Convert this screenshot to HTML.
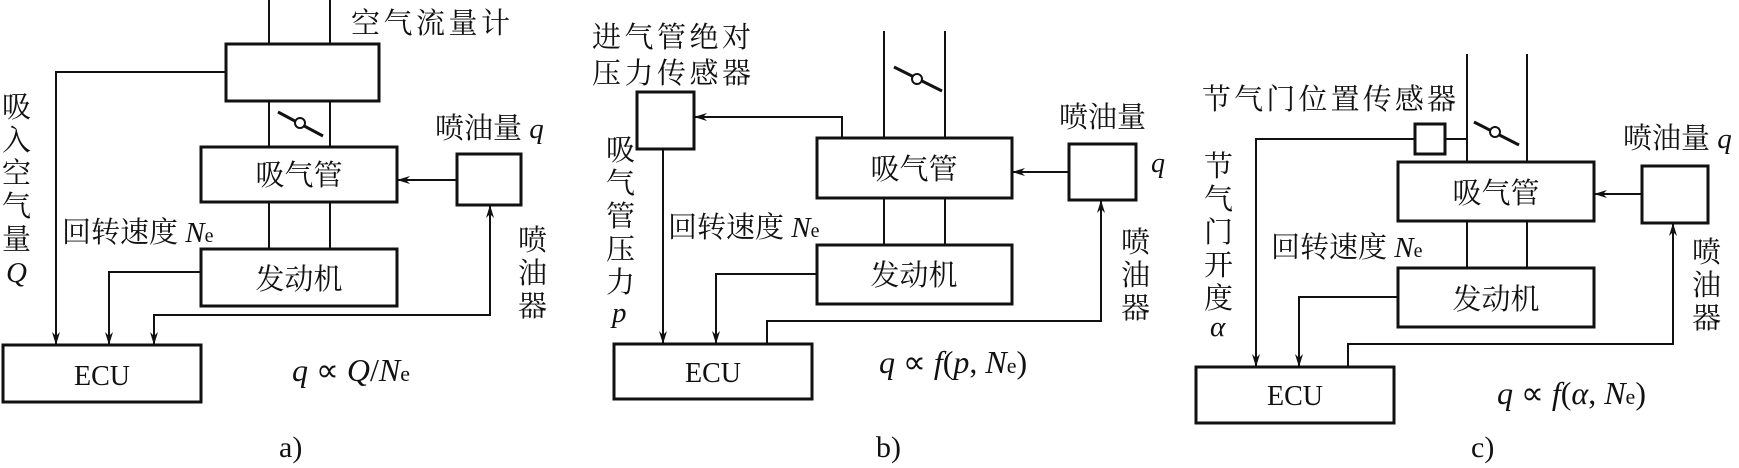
<!DOCTYPE html>
<html><head><meta charset="utf-8"><style>
html,body{margin:0;padding:0;background:#fff;}
svg{display:block;}
.c{font-family:"Liberation Serif","Noto Serif CJK SC",serif;font-size:29px;fill:#111;}
.l{font-family:"Liberation Serif",serif;fill:#111;}
.i{font-style:italic;}
</style></head><body>
<svg width="1739" height="468" viewBox="0 0 1739 468" xmlns="http://www.w3.org/2000/svg">
<defs>
<marker id="a" markerWidth="14" markerHeight="10" refX="13" refY="5" orient="auto" markerUnits="userSpaceOnUse">
<path d="M0,1 L13,5 L0,9 L4,5 Z" fill="#111"/>
</marker>
</defs>
<g stroke="#111" fill="none">
<!-- Panel a -->
<line x1="269" y1="0" x2="269" y2="44" stroke-width="2"/>
<line x1="330" y1="0" x2="330" y2="44" stroke-width="2"/>
<rect x="226" y="44" width="153" height="57" stroke-width="3"/>
<line x1="269" y1="101" x2="269" y2="147" stroke-width="2"/>
<line x1="330" y1="101" x2="330" y2="147" stroke-width="2"/>
<line x1="278" y1="112" x2="323" y2="136" stroke-width="3"/>
<circle cx="300" cy="123" r="5" fill="#fff" stroke-width="2"/>
<rect x="201" y="147" width="196" height="55" stroke-width="3"/>
<line x1="269" y1="202" x2="269" y2="249" stroke-width="2"/>
<line x1="330" y1="202" x2="330" y2="249" stroke-width="2"/>
<rect x="201" y="249" width="196" height="57" stroke-width="3"/>
<rect x="3" y="345" width="198" height="57" stroke-width="3"/>
<rect x="457" y="154" width="64" height="51" stroke-width="3"/>
<polyline points="226,72 56,72 56,345" stroke-width="2" marker-end="url(#a)"/>
<polyline points="201,272 109,272 109,345" stroke-width="2" marker-end="url(#a)"/>
<line x1="457" y1="180" x2="397" y2="180" stroke-width="2" marker-end="url(#a)"/>
<polyline points="154,345 154,315 490,315 490,205" stroke-width="2" marker-end="url(#a)"/>
<path d="M150,332 L154,345 L158,332 L154,336 Z" fill="#111" stroke="none"/>

<!-- Panel b -->
<line x1="884" y1="31" x2="884" y2="138" stroke-width="2"/>
<line x1="945" y1="31" x2="945" y2="138" stroke-width="2"/>
<line x1="894" y1="67" x2="942" y2="91" stroke-width="3"/>
<circle cx="917" cy="79" r="5" fill="#fff" stroke-width="2"/>
<rect x="637" y="92" width="57" height="57" stroke-width="3"/>
<rect x="817" y="138" width="195" height="60" stroke-width="3"/>
<line x1="884" y1="198" x2="884" y2="245" stroke-width="2"/>
<line x1="945" y1="198" x2="945" y2="245" stroke-width="2"/>
<rect x="817" y="245" width="195" height="59" stroke-width="3"/>
<rect x="614" y="344" width="198" height="55" stroke-width="3"/>
<rect x="1069" y="144" width="67" height="56" stroke-width="3"/>
<polyline points="842,138 842,117 694,117" stroke-width="2" marker-end="url(#a)"/>
<line x1="663" y1="149" x2="663" y2="344" stroke-width="2" marker-end="url(#a)"/>
<polyline points="817,274 716,274 716,344" stroke-width="2" marker-end="url(#a)"/>
<line x1="1069" y1="172" x2="1012" y2="172" stroke-width="2" marker-end="url(#a)"/>
<polyline points="767,344 767,321 1101,321 1101,200" stroke-width="2" marker-end="url(#a)"/>

<!-- Panel c -->
<line x1="1467" y1="54" x2="1467" y2="162" stroke-width="2"/>
<line x1="1527" y1="54" x2="1527" y2="162" stroke-width="2"/>
<line x1="1474" y1="122" x2="1519" y2="145" stroke-width="3"/>
<circle cx="1495" cy="132" r="5" fill="#fff" stroke-width="2"/>
<rect x="1415" y="124" width="30" height="30" stroke-width="3"/>
<line x1="1445" y1="139" x2="1467" y2="139" stroke-width="2"/>
<polyline points="1415,139 1256,139 1256,367" stroke-width="2" marker-end="url(#a)"/>
<rect x="1398" y="162" width="196" height="59" stroke-width="3"/>
<line x1="1467" y1="221" x2="1467" y2="268" stroke-width="2"/>
<line x1="1527" y1="221" x2="1527" y2="268" stroke-width="2"/>
<rect x="1398" y="268" width="196" height="59" stroke-width="3"/>
<rect x="1196" y="367" width="198" height="56" stroke-width="3"/>
<rect x="1642" y="166" width="66" height="57" stroke-width="3"/>
<polyline points="1398,297 1299,297 1299,367" stroke-width="2" marker-end="url(#a)"/>
<line x1="1642" y1="194" x2="1594" y2="194" stroke-width="2" marker-end="url(#a)"/>
<polyline points="1348,367 1348,344 1673,344 1673,223" stroke-width="2" marker-end="url(#a)"/>
</g>

<!-- Text panel a -->
<text class="c" x="351" y="33" textLength="159">空气流量计</text>
<text class="c" x="299" y="185" text-anchor="middle">吸气管</text>
<text class="c" x="299" y="289" text-anchor="middle">发动机</text>
<text class="l" x="102" y="385" font-size="28" text-anchor="middle">ECU</text>
<text class="c" x="435" y="138">喷油量 <tspan class="i" font-family="Liberation Serif">q</tspan></text>
<text class="c" x="518"><tspan x="518" y="250">喷</tspan><tspan x="518" y="283">油</tspan><tspan x="518" y="316">器</tspan></text>
<text class="c" x="2"><tspan x="2" y="117">吸</tspan><tspan x="2" y="150">入</tspan><tspan x="2" y="183">空</tspan><tspan x="2" y="216">气</tspan><tspan x="2" y="249">量</tspan><tspan x="6" y="282" class="i" font-family="Liberation Serif">Q</tspan></text>
<text class="c" x="62" y="242">回转速度 <tspan class="i" font-family="Liberation Serif">N</tspan><tspan font-family="Liberation Serif" font-size="20">e</tspan></text>
<text class="l" x="292" y="381" font-size="32"><tspan class="i">q</tspan> ∝ <tspan class="i">Q</tspan>/<tspan class="i">N</tspan><tspan font-size="22">e</tspan></text>
<text class="l" x="279" y="457" font-size="30">a)</text>

<!-- Text panel b -->
<text class="c" x="592" y="47" textLength="159">进气管绝对</text>
<text class="c" x="592" y="83" textLength="159">压力传感器</text>
<text class="c" x="914" y="179" text-anchor="middle">吸气管</text>
<text class="c" x="914" y="285" text-anchor="middle">发动机</text>
<text class="l" x="713" y="382" font-size="28" text-anchor="middle">ECU</text>
<text class="c" x="1059" y="127">喷油量</text>
<text class="l i" x="1151" y="172" font-size="28">q</text>
<text class="c" x="1121"><tspan x="1121" y="252">喷</tspan><tspan x="1121" y="285">油</tspan><tspan x="1121" y="318">器</tspan></text>
<text class="c"><tspan x="606" y="160">吸</tspan><tspan x="606" y="193">气</tspan><tspan x="606" y="226">管</tspan><tspan x="606" y="259">压</tspan><tspan x="606" y="292">力</tspan><tspan x="612" y="322" class="i" font-family="Liberation Serif">p</tspan></text>
<text class="c" x="668" y="237">回转速度 <tspan class="i" font-family="Liberation Serif">N</tspan><tspan font-family="Liberation Serif" font-size="20">e</tspan></text>
<text class="l" x="879" y="373" font-size="32"><tspan class="i">q</tspan> ∝ <tspan class="i">f</tspan>(<tspan class="i">p</tspan>, <tspan class="i">N</tspan><tspan font-size="22">e</tspan>)</text>
<text class="l" x="876" y="457" font-size="30">b)</text>

<!-- Text panel c -->
<text class="c" x="1202" y="109" textLength="254">节气门位置传感器</text>
<text class="c" x="1496" y="203" text-anchor="middle">吸气管</text>
<text class="c" x="1496" y="309" text-anchor="middle">发动机</text>
<text class="l" x="1295" y="405" font-size="28" text-anchor="middle">ECU</text>
<text class="c" x="1623" y="148">喷油量 <tspan class="i" font-family="Liberation Serif">q</tspan></text>
<text class="c"><tspan x="1692" y="262">喷</tspan><tspan x="1692" y="295">油</tspan><tspan x="1692" y="328">器</tspan></text>
<text class="c"><tspan x="1204" y="176">节</tspan><tspan x="1204" y="209">气</tspan><tspan x="1204" y="242">门</tspan><tspan x="1204" y="275">开</tspan><tspan x="1204" y="308">度</tspan><tspan x="1210" y="336" class="i" font-family="Liberation Serif">α</tspan></text>
<text class="c" x="1271" y="257">回转速度 <tspan class="i" font-family="Liberation Serif">N</tspan><tspan font-family="Liberation Serif" font-size="20">e</tspan></text>
<text class="l" x="1497" y="404" font-size="32"><tspan class="i">q</tspan> ∝ <tspan class="i">f</tspan>(<tspan class="i">α</tspan>, <tspan class="i">N</tspan><tspan font-size="22">e</tspan>)</text>
<text class="l" x="1471" y="457" font-size="30">c)</text>
</svg>
</body></html>
